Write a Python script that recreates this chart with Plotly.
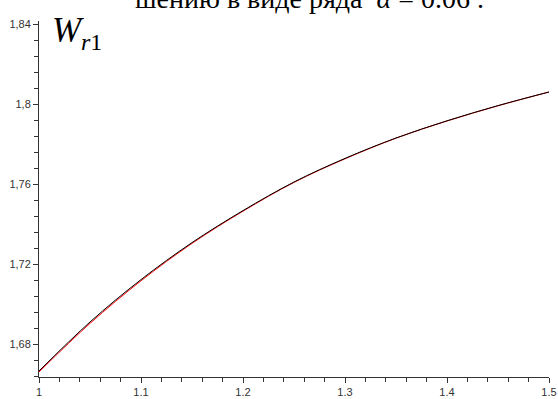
import plotly.graph_objects as go

# Data
x_vals = [1.00, 1.05, 1.10, 1.15, 1.20, 1.25, 1.30, 1.35, 1.40, 1.45, 1.50]
w_black = [1.6665, 1.6910, 1.7122, 1.7307, 1.7467, 1.7610, 1.7728, 1.7830, 1.7916, 1.7992, 1.8060]
w_red = [1.6660, 1.6903, 1.7116, 1.7303, 1.7464, 1.7608, 1.7726, 1.7829, 1.7915, 1.7991, 1.8060]

x_ticks = [1.0, 1.1, 1.2, 1.3, 1.4, 1.5]
x_ticktext = ["1", "1.1", "1.2", "1.3", "1.4", "1.5"]
y_ticks = [1.68, 1.72, 1.76, 1.80, 1.84]
y_ticktext = ["1,68", "1,72", "1,76", "1,8", "1,84"]

title_text = "шению в виде ряда  <i>α</i> = 0.06 ."

fig = go.Figure()
fig.add_trace(go.Scatter(x=x_vals, y=w_red, mode="lines",
                         line=dict(color="#ff0000", width=1, shape="spline"),
                         showlegend=False))
fig.add_trace(go.Scatter(x=x_vals, y=w_black, mode="lines",
                         line=dict(color="#000000", width=1, shape="spline"),
                         showlegend=False))

axis_common = dict(showgrid=False, zeroline=False, showline=True, automargin=False,
                   linecolor="#333333", linewidth=1,
                   ticks="outside", ticklen=5, tickcolor="#333333", tickwidth=1,
                   tickfont=dict(family="Liberation Sans", size=11, color="#333333"))

fig.update_xaxes(range=[1.0, 1.5], tickvals=x_ticks, ticktext=x_ticktext,
                 ticklabelstandoff=0,
                 minor=dict(dtick=0.02, ticks="outside", ticklen=4,
                            tickcolor="#333333", tick0=1.0),
                 **axis_common)
fig.update_yaxes(range=[1.6635, 1.8415], tickvals=y_ticks, ticktext=y_ticktext,
                 minor=dict(dtick=0.008, ticks="outside", ticklen=4,
                            tickcolor="#333333", tick0=1.6),
                 **axis_common)

fig.add_annotation(text=title_text, xref="paper", yref="paper",
                   x=(133 - 39) / 510, y=1.0, xanchor="left", yanchor="bottom",
                   yshift=5, showarrow=False,
                   font=dict(family="Liberation Serif", size=28, color="#000000"))
fig.add_annotation(text="<i>W</i>", xref="paper", yref="paper",
                   x=(50 - 39) / 510, y=1.0, xanchor="left", yanchor="top",
                   yshift=12, showarrow=False,
                   font=dict(family="Liberation Serif", size=35, color="#000000"))
fig.add_annotation(text="<i>r</i>1", xref="paper", yref="paper",
                   x=(79 - 39) / 510, y=1.0, xanchor="left", yanchor="top",
                   yshift=-6, showarrow=False,
                   font=dict(family="Liberation Serif", size=24, color="#000000"))

fig.update_layout(width=558, height=399,
                  margin=dict(l=39, r=9, t=21, b=22),
                  paper_bgcolor="white", plot_bgcolor="white")

fig.write_html("out.html", config={"displayModeBar": False},
               post_script="document.body.style.margin='0';")
